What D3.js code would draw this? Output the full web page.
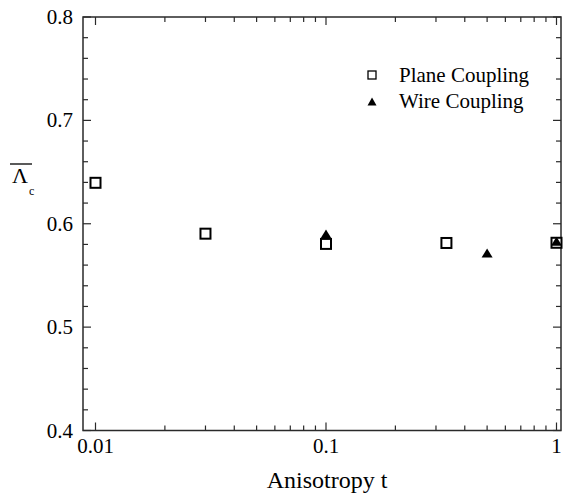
<!DOCTYPE html>
<html>
<head>
<meta charset="utf-8">
<script src="https://cdn.jsdelivr.net/npm/d3@7"></script>
</head>
<body style="margin:0;background:#fff">
<svg id="chart" width="564" height="501" font-family="Liberation Serif"></svg>
<script>
// ---- data ----
const planeT = [0.01, 0.03, 0.1, 0.333, 1];
const planeL = [0.6396, 0.5904, 0.5805, 0.5814, 0.5816];
const wireT = [0.1, 0.5, 1];
const wireL = [0.590, 0.5717, 0.583];
const xTickValues = [0.01, 0.1, 1];
const xTickLabels = ["0.01", "0.1", "1"];
const yTickValues = [0.4, 0.5, 0.6, 0.7, 0.8];
const yTickLabels = ["0.4", "0.5", "0.6", "0.7", "0.8"];
const legendLabels = ["Plane Coupling", "Wire Coupling"];
const xTitle = "Anisotropy t";

// ---- layout ----
const svg = d3.select("#chart");
const frame = { left: 83, right: 561, top: 17, bottom: 430.5 };
const x = d3.scaleLog().domain([0.01, 1]).range([95.5, 556.5]);
const y = d3.scaleLinear().domain([0.4, 0.8]).range([430.5, 17]);
const axisColor = "#2a2a2a";
const tickFont = 21;

const txt = (size) => svg.append("text")
  .attr("font-size", size)
  .style("font-family", '"Liberation Serif", Tinos, serif')
  .attr("fill", "#000");

// frame
svg.append("rect")
  .attr("x", frame.left).attr("y", frame.top)
  .attr("width", frame.right - frame.left).attr("height", frame.bottom - frame.top)
  .attr("fill", "none").attr("stroke", axisColor).attr("stroke-width", 1.5);

// x ticks (major + minor), mirrored on top
const xMinor = [];
[0.01, 0.1].forEach(d => { for (let k = 1; k <= 9; k++) xMinor.push(d * k); });
xMinor.push(1);
const g = svg.append("g").attr("stroke", axisColor).attr("stroke-width", 1.2);
xMinor.forEach(v => {
  const isMajor = xTickValues.some(m => Math.abs(m - v) < 1e-9);
  const len = isMajor ? 8 : 5;
  g.append("line").attr("x1", x(v)).attr("x2", x(v)).attr("y1", frame.bottom).attr("y2", frame.bottom - len);
  g.append("line").attr("x1", x(v)).attr("x2", x(v)).attr("y1", frame.top).attr("y2", frame.top + len);
});
// y ticks, mirrored on right
d3.range(0, 21).forEach(i => {
  const v = 0.4 + i * 0.02;
  const isMajor = i % 5 === 0;
  const len = isMajor ? 8 : 5;
  g.append("line").attr("x1", frame.left).attr("x2", frame.left + len).attr("y1", y(v)).attr("y2", y(v));
  g.append("line").attr("x1", frame.right).attr("x2", frame.right - len).attr("y1", y(v)).attr("y2", y(v));
});

// tick labels
xTickValues.forEach((v, i) => {
  txt(tickFont).attr("x", x(v)).attr("y", 452.5)
    .attr("text-anchor", "middle").text(xTickLabels[i]);
});
yTickValues.forEach((v, i) => {
  txt(tickFont).attr("x", 73).attr("y", y(v) + 7)
    .attr("text-anchor", "end").text(yTickLabels[i]);
});

// axis titles
txt(24).attr("x", 327).attr("y", 488)
  .attr("text-anchor", "middle").text(xTitle);
txt(22).attr("x", 20).attr("y", 183)
  .attr("text-anchor", "middle").text("Λ");
txt(12).attr("x", 29).attr("y", 195).text("c");
svg.append("line").attr("x1", 10).attr("x2", 32).attr("y1", 164).attr("y2", 164)
  .attr("stroke", "#000").attr("stroke-width", 1.3);

// markers
const sq = 10;
svg.append("g").selectAll("rect").data(planeT.map((t, i) => [t, planeL[i]])).join("rect")
  .attr("x", d => x(d[0]) - sq / 2).attr("y", d => y(d[1]) - sq / 2)
  .attr("width", sq).attr("height", sq)
  .attr("fill", "#fff").attr("stroke", "#000").attr("stroke-width", 2);

const tri = (cx, cy, w, h) => `M${cx - w / 2},${cy + h / 2}L${cx + w / 2},${cy + h / 2}L${cx},${cy - h / 2}Z`;
svg.append("g").selectAll("path").data(wireT.map((t, i) => [t, wireL[i]])).join("path")
  .attr("d", d => tri(x(d[0]), y(d[1]), 11, 9))
  .attr("fill", "#000");

// legend
svg.append("rect").attr("x", 368).attr("y", 71).attr("width", 8).attr("height", 8)
  .attr("fill", "#fff").attr("stroke", "#000").attr("stroke-width", 1.3);
svg.append("path").attr("d", tri(372, 101.5, 9, 8)).attr("fill", "#000");
txt(21).attr("x", 399).attr("y", 82).text(legendLabels[0]);
txt(21).attr("x", 399).attr("y", 108).text(legendLabels[1]);
</script>
</body>
</html>
